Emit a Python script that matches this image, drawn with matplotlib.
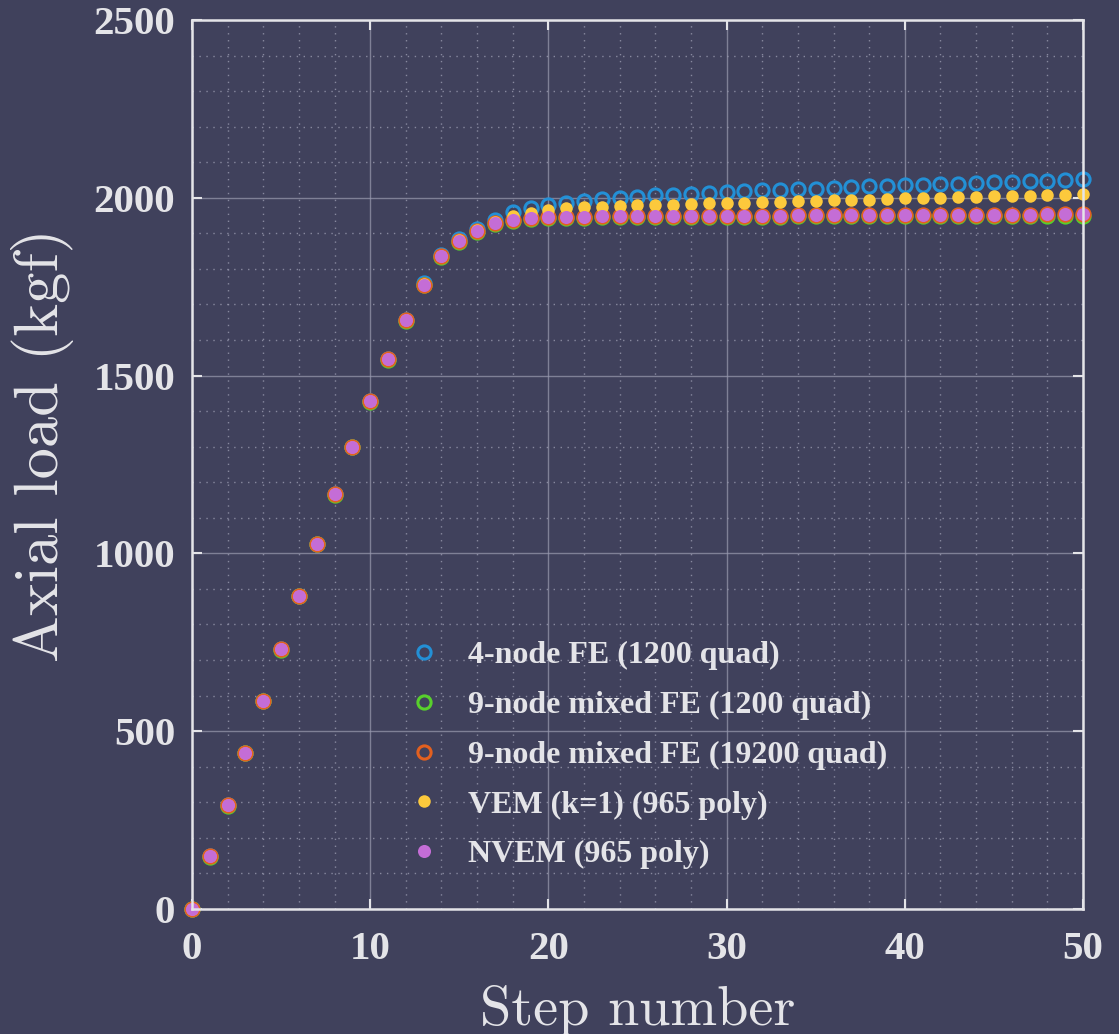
import matplotlib
matplotlib.use("Agg")
import matplotlib.pyplot as plt
from matplotlib.ticker import MultipleLocator

bg = '#40415c'
fg = '#e4e4e8'

steps = list(range(51))

# 4-node FE (1200 quad)
fe4 = [0, 148, 292, 439, 586, 730, 881, 1027, 1166, 1299, 1428, 1546, 1655,
       1759, 1839, 1884, 1912, 1937, 1960, 1971, 1979, 1986, 1992, 1996, 2000,
       2003, 2007, 2009, 2011, 2013, 2017, 2019, 2021, 2023, 2024, 2026, 2028,
       2030, 2032, 2033, 2035, 2037, 2038, 2039, 2041, 2043, 2044, 2046, 2048,
       2050, 2053]
# 9-node mixed FE (1200 quad)
fe9 = [0, 147, 291, 438, 585, 729, 880, 1026, 1165, 1298, 1427, 1545, 1654,
       1755, 1833, 1877, 1904, 1925, 1935, 1941, 1943, 1944, 1944, 1945, 1945,
       1945, 1946, 1946, 1946, 1947, 1947, 1947, 1947, 1947, 1948, 1948, 1948,
       1948, 1948, 1948, 1949, 1949, 1949, 1949, 1949, 1949, 1949, 1949, 1950,
       1950, 1950]
# 9-node mixed FE (19200 quad)
fe9f = [0, 148, 292, 439, 586, 730, 881, 1027, 1166, 1299, 1428, 1546, 1655,
        1756, 1835, 1879, 1906, 1928, 1938, 1944, 1946, 1947, 1947, 1948, 1948,
        1948, 1949, 1949, 1949, 1950, 1950, 1950, 1950, 1950, 1951, 1951, 1951,
        1951, 1951, 1951, 1952, 1952, 1952, 1952, 1952, 1952, 1952, 1952, 1953,
        1953, 1953]
# VEM (k=1) (965 poly)
vem = [0, 148, 292, 439, 586, 730, 881, 1027, 1166, 1299, 1428, 1546, 1655,
       1757, 1836, 1881, 1908, 1932, 1948, 1956, 1965, 1970, 1973, 1975, 1977,
       1979, 1981, 1981, 1982, 1984, 1985, 1986, 1988, 1989, 1990, 1992, 1993,
       1994, 1995, 1997, 1998, 1999, 2000, 2002, 2003, 2004, 2005, 2006, 2007,
       2009, 2010]
# NVEM (965 poly)
nvem = [0, 148, 292, 439, 586, 730, 881, 1027, 1166, 1299, 1428, 1546, 1655,
        1756, 1835, 1879, 1906, 1928, 1938, 1944, 1946, 1947, 1947, 1948, 1948,
        1948, 1949, 1949, 1949, 1950, 1950, 1950, 1950, 1950, 1951, 1951, 1951,
        1951, 1951, 1951, 1952, 1952, 1952, 1952, 1952, 1952, 1952, 1952, 1953,
        1953, 1953]

labels = ['4-node FE (1200 quad)', '9-node mixed FE (1200 quad)',
          '9-node mixed FE (19200 quad)', 'VEM (k=1) (965 poly)',
          'NVEM (965 poly)']

fig = plt.figure(figsize=(11.19, 10.34), dpi=100, facecolor=bg)
ax = fig.add_axes([0.1716, 0.1209, 0.7962, 0.8598], facecolor=bg)

ax.plot(steps, fe4, 'o', mfc='none', mec='#2390d6', mew=2.2, ms=9.5, label=labels[0], clip_on=False)
ax.plot(steps, fe9, 'o', mfc='none', mec='#58d02c', mew=2.2, ms=9.5, label=labels[1], clip_on=False)
ax.plot(steps, fe9f, 'o', mfc='none', mec='#e3601f', mew=2.2, ms=9.5, label=labels[2], clip_on=False)
ax.plot(steps, vem, 'o', mfc='#fcc93c', mec='none', ms=9, label=labels[3], clip_on=False)
ax.plot(steps, nvem, 'o', mfc='#c46dd6', mec='none', ms=9.4, label=labels[4], clip_on=False)

ax.set_xlim(0, 50)
ax.set_ylim(0, 2500)
ax.xaxis.set_major_locator(MultipleLocator(10))
ax.xaxis.set_minor_locator(MultipleLocator(2))
ax.yaxis.set_major_locator(MultipleLocator(500))
ax.yaxis.set_minor_locator(MultipleLocator(100))

ax.grid(which='major', color='#9a9bb0', lw=1.0, alpha=0.7)
ax.grid(which='minor', color='#9a9bb0', lw=1.0, ls=(0, (1, 4)), alpha=0.8)
ax.set_axisbelow(True)

for s in ax.spines.values():
    s.set_color(fg)
    s.set_linewidth(1.8)

ax.tick_params(which='major', direction='in', length=7, width=1.5, color=fg,
               top=True, right=True, labelcolor=fg)
ax.tick_params(axis='x', which='major', pad=16)
ax.tick_params(axis='y', which='major', pad=12)
ax.tick_params(which='minor', length=0)
for lab in ax.get_xticklabels() + ax.get_yticklabels():
    lab.set_fontfamily('Liberation Serif')
    lab.set_fontweight('bold')
    lab.set_fontsize(29.5)

ax.set_xlabel('Step number', fontfamily='cmr10', fontsize=40.5, color=fg, labelpad=12)
ax.set_ylabel('Axial load (kgf)', fontfamily='cmr10', fontsize=45, color=fg)
ax.yaxis.set_label_coords(-0.133, 0.522)

leg = ax.legend(loc='upper left', bbox_to_anchor=(0.217, 0.334), frameon=False,
                handlelength=0.6, handletextpad=1.1, labelspacing=0.64,
                prop={'family': 'Liberation Serif', 'weight': 'bold', 'size': 23})
for t in leg.get_texts():
    t.set_color(fg)

fig.savefig('out.png', dpi=100, facecolor=bg)
